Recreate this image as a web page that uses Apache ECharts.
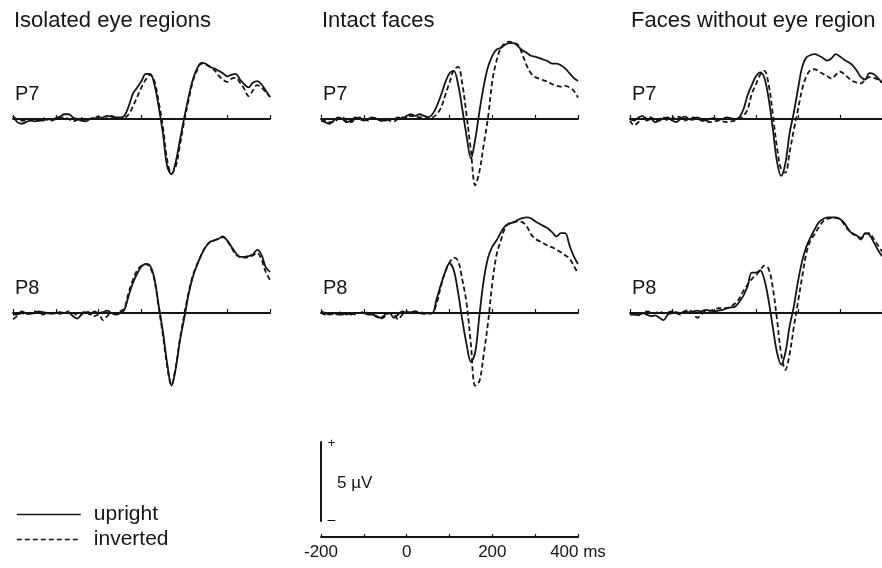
<!DOCTYPE html>
<html>
<head>
<meta charset="utf-8">
<script src="https://cdn.jsdelivr.net/npm/echarts@6/dist/echarts.min.js"></script>
<style>
html, body { margin: 0; padding: 0; background: #fff; }
#chart { width: 882px; height: 568px; }
</style>
</head>
<body>
<div id="chart"></div>
<script>
// time points in ms
var times = [-200,-190,-180,-170,-160,-150,-140,-130,-120,-110,-100,-90,-80,-70,-60,-50,-40,-30,-20,-10,
  0,10,20,30,40,50,60,70,80,90,100,110,120,130,140,150,160,170,180,190,200,
  210,220,230,240,250,260,270,280,290,300,310,320,330,340,350,360,370,380,390,400];

// amplitudes in µV
var eyeP7Up = [0.2,-0.2,-0.3,-0.2,-0.1,-0.15,-0.1,-0.1,0.0,-0.05,0.05,0.15,0.3,0.3,0.1,0.0,-0.1,-0.15,0.0,0.05,0.0,0.1,0.2,0.15,0.1,0.1,
  0.2,0.8,1.6,2.0,2.4,2.85,2.85,2.2,0.8,-0.9,-3.0,-3.5,-2.7,-1.3,0.1,1.4,2.5,3.2,3.55,3.5,3.3,3.2,3.05,2.9,2.7,2.8,2.85,2.5,2.2,2.0,2.3,2.4,2.2,1.8,1.4];
var eyeP7Inv = [0.1,0.0,-0.1,-0.1,0.0,-0.1,-0.1,0.05,-0.05,-0.1,0.0,0.05,0.1,0.0,-0.15,-0.05,0.05,-0.1,0.0,0.1,0.15,0.0,0.05,0.2,0.05,0.0,
  0.05,0.3,0.8,1.4,2.0,2.5,2.8,2.4,1.1,-0.5,-2.6,-3.45,-3.0,-1.6,-0.1,1.2,2.4,3.1,3.5,3.45,3.3,3.1,2.75,2.5,2.35,2.55,2.6,2.3,1.9,1.45,1.8,2.15,2.0,1.7,1.4];
var intactP7Up = [-0.1,-0.2,-0.3,-0.1,0.1,0.0,-0.2,-0.1,0.1,0.0,-0.1,0.0,0.1,0.0,-0.1,-0.1,0.0,0.0,0.1,0.0,0.2,0.3,0.2,0.3,0.2,0.1,
  0.3,0.8,1.5,2.3,2.9,3.05,2.2,0.6,-1.1,-2.5,-1.3,0.5,2.1,3.3,4.0,4.4,4.5,4.7,4.8,4.8,4.6,4.35,4.2,4.0,3.95,3.85,3.75,3.65,3.5,3.5,3.4,3.2,2.9,2.6,2.4];
var intactP7Inv = [0.0,-0.1,-0.2,-0.2,0.0,0.1,-0.1,-0.2,0.0,0.1,0.0,-0.1,0.0,0.05,-0.1,0.0,-0.1,-0.15,0.0,0.1,0.1,0.2,0.15,0.1,0.2,0.1,
  0.1,0.3,0.7,1.5,2.3,3.1,3.3,2.2,0.2,-2.0,-4.2,-3.3,-1.6,0.1,2.4,3.7,4.5,4.8,4.9,4.8,4.7,4.1,3.4,2.9,2.65,2.55,2.45,2.35,2.2,2.1,2.05,2.1,2.0,1.8,1.35];
var noEyeP7Up = [0.0,-0.1,0.1,0.2,-0.1,0.0,-0.2,-0.1,0.05,0.1,-0.1,-0.2,0.0,0.15,0.0,-0.05,0.1,0.0,-0.1,0.0,0.05,-0.05,0.0,0.1,0.05,0.0,
  0.1,0.6,1.5,2.15,2.7,2.95,2.6,1.3,-0.6,-2.7,-3.6,-2.8,-0.9,0.4,1.9,3.3,3.9,4.05,4.1,4.0,3.85,3.7,3.85,4.1,3.95,3.75,3.6,3.4,3.05,2.65,2.5,2.9,2.85,2.6,2.3];
var noEyeP7Inv = [-0.1,-0.4,-0.2,0.0,0.1,0.1,-0.1,0.0,0.1,-0.1,0.05,0.15,0.1,-0.1,0.0,0.1,0.05,-0.1,-0.15,-0.2,-0.15,-0.1,-0.15,-0.2,-0.15,-0.1,
  0.0,0.2,0.6,1.6,2.2,2.8,3.05,2.2,0.3,-1.8,-3.2,-3.4,-2.1,-0.7,0.6,1.9,2.7,3.1,3.15,3.0,2.85,2.7,2.55,2.8,3.0,2.85,2.6,2.4,2.3,2.25,2.5,2.65,2.6,2.5,2.3];
var eyeP8Up = [-0.1,-0.1,0.1,0.0,-0.05,0.0,0.1,0.05,0.0,-0.05,0.0,0.05,0.0,0.0,-0.2,-0.35,-0.1,0.05,-0.1,0.1,0.0,0.05,0.15,0.0,-0.1,0.0,
  0.2,1.1,1.9,2.5,2.95,3.1,3.0,2.2,0.5,-1.2,-3.2,-4.6,-3.5,-1.7,-0.3,1.2,2.3,3.05,3.7,4.2,4.5,4.6,4.7,4.85,4.6,4.2,3.8,3.55,3.55,3.6,3.7,4.0,3.7,2.9,2.6];
var eyeP8Inv = [-0.4,-0.2,0.0,-0.1,0.0,0.1,0.0,-0.1,0.0,0.0,0.05,-0.05,0.0,0.1,0.0,-0.1,0.0,0.1,0.0,-0.2,-0.1,-0.45,-0.2,0.0,0.0,0.1,
  0.3,1.3,2.1,2.7,3.0,3.1,2.9,2.1,0.4,-1.4,-3.4,-4.55,-3.4,-1.6,-0.1,1.3,2.4,3.1,3.7,4.2,4.5,4.6,4.7,4.8,4.55,4.15,3.7,3.55,3.5,3.55,3.65,3.8,3.4,2.6,2.1];
var intactP8Up = [0.1,0.0,-0.1,0.0,-0.1,-0.1,0.0,-0.1,0.0,0.0,0.0,-0.1,-0.1,-0.25,-0.3,-0.1,0.0,-0.3,-0.1,0.1,0.0,0.05,0.1,0.0,-0.05,0.0,
  0.0,0.9,1.8,2.6,3.15,2.7,1.3,-0.45,-2.0,-3.1,-2.5,-0.1,2.1,3.5,4.2,4.6,5.1,5.5,5.65,5.75,5.9,6.0,6.05,6.0,5.8,5.65,5.5,5.35,5.1,4.85,5.05,5.05,4.3,3.6,3.1];
var intactP8Inv = [0.0,-0.1,0.0,-0.1,0.0,0.05,-0.1,0.0,-0.1,0.0,0.05,0.0,-0.1,-0.2,-0.35,-0.2,0.0,-0.1,-0.4,-0.1,0.1,0.0,0.1,0.05,0.0,-0.05,
  0.0,0.6,1.7,2.6,3.2,3.5,3.3,2.1,0.6,-2.0,-4.6,-4.3,-2.6,-0.6,1.9,3.7,4.6,5.4,5.7,5.75,5.8,5.75,5.5,5.0,4.7,4.55,4.4,4.25,4.15,4.0,3.85,3.65,3.45,3.0,2.5];
var noEyeP8Up = [-0.1,-0.1,-0.15,0.0,-0.1,-0.2,-0.15,-0.3,-0.45,-0.1,0.0,0.05,0.0,0.1,0.05,0.1,0.15,0.1,0.2,0.15,0.1,0.15,0.2,0.3,0.35,0.4,
  0.7,1.1,1.7,2.55,2.55,2.7,2.1,0.8,-0.9,-2.5,-3.27,-2.5,-0.85,0.4,2.0,3.3,4.2,4.8,5.3,5.75,5.95,6.05,6.05,6.05,5.95,5.7,5.3,5.0,4.9,4.65,5.05,4.95,4.5,4.0,3.6];
var noEyeP8Inv = [0.0,-0.1,-0.1,0.0,0.1,0.05,0.0,0.1,0.0,0.05,0.1,0.0,-0.1,0.1,0.2,0.0,-0.3,-0.1,0.1,0.15,0.2,0.3,0.3,0.3,0.4,0.6,
  0.9,1.4,1.8,2.15,2.4,2.7,3.0,2.8,1.6,-0.4,-2.6,-3.6,-2.6,-0.9,0.7,2.3,3.8,4.6,5.0,5.45,5.8,5.95,6.0,6.0,5.95,5.6,5.25,5.05,4.9,4.75,5.0,5.05,4.7,4.3,3.9];

var conditions = ['Isolated eye regions', 'Intact faces', 'Faces without eye region'];
var electrodes = ['P7', 'P8'];
var scaleTicks = [-200, 0, 200, 400];

var FONT = '"Liberation Sans", Arial, sans-serif';
var INK = '#151515';
var PX_PER_UV = 15.8;
var YSPAN = 7;
var colX = [13, 321, 630];
var rowY = [119, 313];
var panelW = 257;

var panels = [
  { col: 0, row: 0, up: eyeP7Up, inv: eyeP7Inv },
  { col: 1, row: 0, up: intactP7Up, inv: intactP7Inv },
  { col: 2, row: 0, up: noEyeP7Up, inv: noEyeP7Inv },
  { col: 0, row: 1, up: eyeP8Up, inv: eyeP8Inv },
  { col: 1, row: 1, up: intactP8Up, inv: intactP8Inv },
  { col: 2, row: 1, up: noEyeP8Up, inv: noEyeP8Inv }
];

function pairs(vals) {
  return times.map(function (t, i) { return [t, vals[i]]; });
}

var grid = [], xAxis = [], yAxis = [], series = [], graphic = [];

panels.forEach(function (p, i) {
  grid.push({
    left: colX[p.col], width: panelW,
    top: rowY[p.row] - YSPAN * PX_PER_UV, height: 2 * YSPAN * PX_PER_UV
  });
  xAxis.push({
    type: 'value', gridIndex: i, min: -200, max: 400, interval: 100,
    axisLine: { onZero: true, lineStyle: { color: INK, width: 1.8 } },
    axisTick: { inside: true, length: 4, lineStyle: { color: INK, width: 1.2 } },
    axisLabel: { show: false }, splitLine: { show: false }
  });
  yAxis.push({ type: 'value', gridIndex: i, min: -YSPAN, max: YSPAN, show: false });
  series.push({
    name: 'upright', type: 'line', xAxisIndex: i, yAxisIndex: i,
    data: pairs(p.up), symbol: 'none', smooth: 0.35,
    lineStyle: { color: INK, width: 1.8, type: 'solid' }, itemStyle: { color: INK }
  });
  series.push({
    name: 'inverted', type: 'line', xAxisIndex: i, yAxisIndex: i,
    data: pairs(p.inv), symbol: 'none', smooth: 0.35,
    lineStyle: { color: INK, width: 1.8, type: [5, 3] }, itemStyle: { color: INK }
  });
  graphic.push({
    type: 'text', x: colX[p.col] + 2, y: rowY[p.row] - 25,
    style: { text: electrodes[p.row], fontSize: 20, fontFamily: FONT, fill: INK, verticalAlign: 'middle' }
  });
});

conditions.forEach(function (c, k) {
  graphic.push({
    type: 'text', x: colX[k] + 1, y: 21,
    style: { text: c, fontSize: 22, fontFamily: FONT, fill: INK, verticalAlign: 'middle' }
  });
});

// horizontal time scale
grid.push({ left: 321, width: panelW, top: 527, height: 10 });
xAxis.push({
  type: 'value', gridIndex: 6, min: -200, max: 400, interval: 100, position: 'bottom',
  axisLine: { onZero: false, lineStyle: { color: INK, width: 1.8 } },
  axisTick: { inside: true, length: 3, lineStyle: { color: INK, width: 1.2 } },
  axisLabel: {
    margin: 7, fontSize: 17, fontFamily: FONT, color: INK,
    formatter: function (v) {
      if (scaleTicks.indexOf(v) < 0) return '';
      return v === 400 ? '400 ms' : String(v);
    }
  },
  splitLine: { show: false }
});
yAxis.push({ type: 'value', gridIndex: 6, min: 0, max: 1, show: false });

// vertical 5 µV scale
grid.push({ left: 321, width: 10, top: 442, height: 5 * PX_PER_UV });
xAxis.push({ type: 'value', gridIndex: 7, min: 0, max: 1, show: false });
yAxis.push({
  type: 'value', gridIndex: 7, min: 0, max: 5, position: 'left',
  axisLine: { show: true, onZero: false, lineStyle: { color: INK, width: 2 } },
  axisTick: { show: false }, axisLabel: { show: false }, splitLine: { show: false }
});

graphic.push(
  { type: 'text', x: 331.5, y: 443, style: { text: '+', fontSize: 13, fontFamily: FONT, fill: INK, align: 'center', verticalAlign: 'middle' } },
  { type: 'text', x: 331.5, y: 520, style: { text: '–', fontSize: 14, fontFamily: FONT, fill: INK, align: 'center', verticalAlign: 'middle' } },
  { type: 'text', x: 337, y: 483, style: { text: '5 µV', fontSize: 17, fontFamily: FONT, fill: INK, verticalAlign: 'middle' } }
);

var chart = echarts.init(document.getElementById('chart'), null, { renderer: 'canvas' });
chart.setOption({
  animation: false,
  backgroundColor: '#ffffff',
  grid: grid,
  xAxis: xAxis,
  yAxis: yAxis,
  series: series,
  graphic: graphic,
  legend: {
    data: ['upright', 'inverted'], orient: 'vertical', left: 16, top: 504, padding: 0,
    itemWidth: 64, itemHeight: 14, itemGap: 4, selectedMode: false,
    itemStyle: { opacity: 0 },
    lineStyle: { width: 1.6 },
    textStyle: { fontSize: 21, fontFamily: FONT, color: INK, lineHeight: 20, padding: [0, 0, 0, 8] }
  }
});
</script>
</body>
</html>
